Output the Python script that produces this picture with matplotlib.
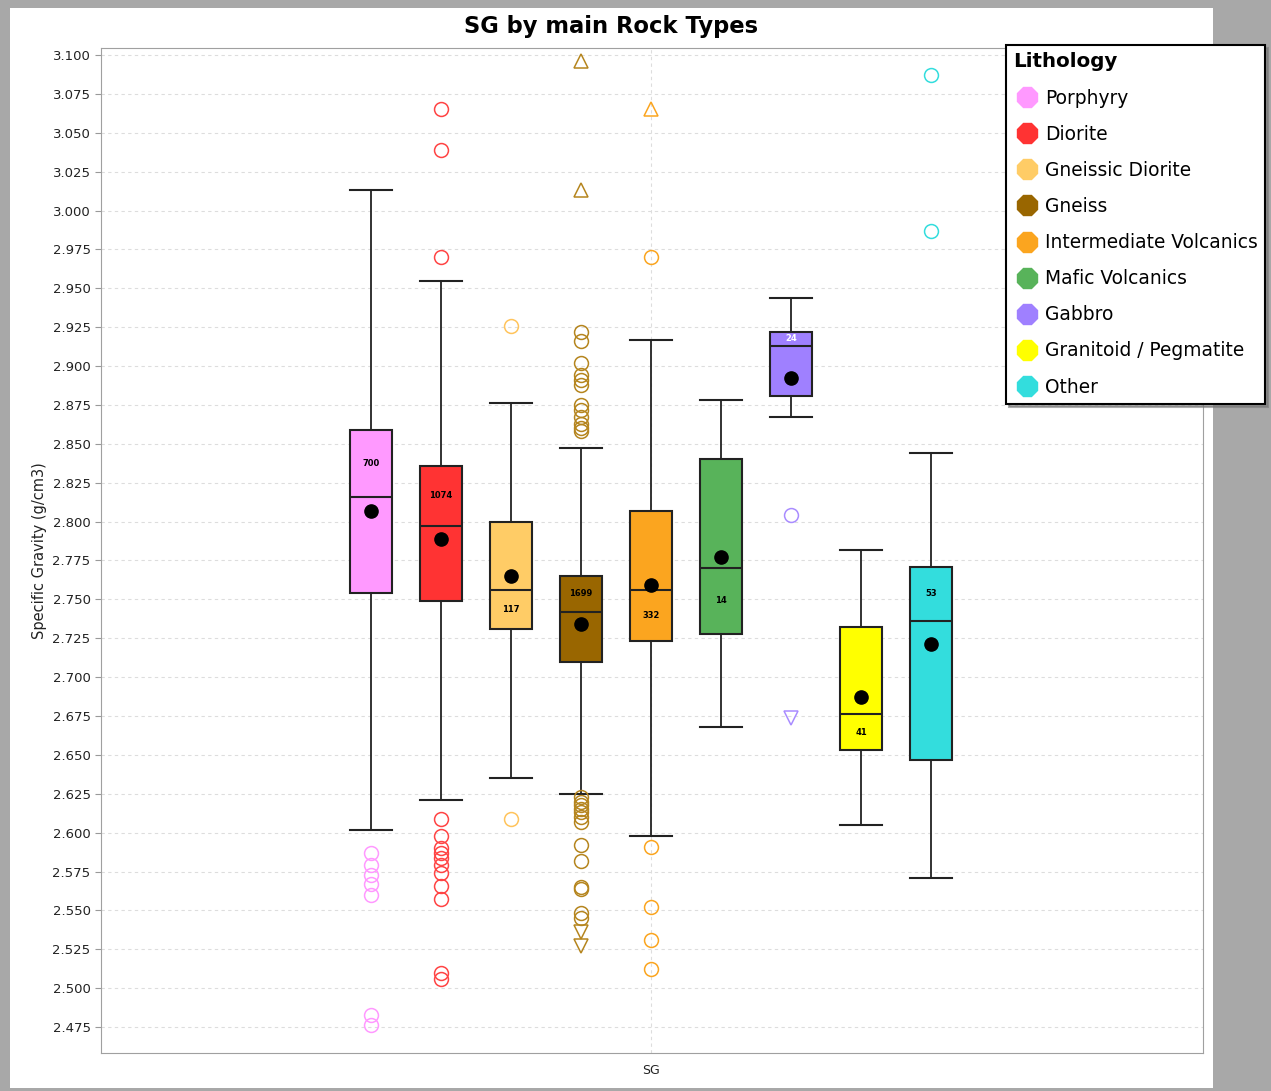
import numpy as np
import matplotlib.pyplot as plt
from matplotlib.patches import Rectangle

# lithology classes and their box plot statistics (SG, g/cm3)
names = ['Porphyry', 'Diorite', 'Gneissic Diorite', 'Gneiss', 'Intermediate Volcanics',
         'Mafic Volcanics', 'Gabbro', 'Granitoid / Pegmatite', 'Other']
colors = ['#FF99FF', '#FF3333', '#FFCC66', '#996600', '#FBA51F',
          '#58B35A', '#9F80FF', '#FFFF00', '#33DDDD']
flier_colors = ['#FF99FF', '#FF4444', '#FFC45C', '#B5851E', '#FBA51F',
                '#58B35A', '#A98CFF', '#FFFF00', '#33DDDD']
counts = [700, 1074, 117, 1699, 332, 14, 24, 41, 53]

whis_hi = [3.013, 2.955, 2.876, 2.847, 2.917, 2.878, 2.944, 2.782, 2.844]
q3 = [2.859, 2.836, 2.800, 2.765, 2.807, 2.840, 2.922, 2.732, 2.771]
med = [2.816, 2.797, 2.756, 2.742, 2.756, 2.770, 2.913, 2.676, 2.736]
mean = [2.807, 2.789, 2.765, 2.734, 2.759, 2.777, 2.892, 2.687, 2.721]
q1 = [2.754, 2.749, 2.731, 2.710, 2.723, 2.728, 2.881, 2.653, 2.647]
whis_lo = [2.602, 2.621, 2.635, 2.625, 2.598, 2.668, 2.867, 2.605, 2.571]

outliers = [
    [2.587, 2.579, 2.573, 2.567, 2.560, 2.483, 2.476],
    [3.065, 3.039, 2.970, 2.609, 2.598, 2.590, 2.587, 2.584, 2.579, 2.574,
     2.566, 2.557, 2.510, 2.506],
    [2.926, 2.609],
    [2.922, 2.916, 2.902, 2.894, 2.891, 2.888, 2.875, 2.872, 2.867, 2.863,
     2.860, 2.858, 2.623, 2.620, 2.618, 2.615, 2.613, 2.610, 2.607, 2.592,
     2.582, 2.565, 2.564, 2.548, 2.545],
    [2.970, 2.591, 2.552, 2.531, 2.512],
    [],
    [2.804],
    [],
    [3.087, 2.987],
]
farout_hi = [[], [], [], [3.096, 3.013], [3.065], [], [], [], []]
farout_lo = [[], [], [], [2.536, 2.527], [], [], [2.674], [], []]

fig = plt.figure(figsize=(12.71, 10.91), dpi=100)
fig.patch.set_facecolor('#A8A8A8')
# white chart panel
fig.patches.append(Rectangle((10 / 1271, 1 - 1088 / 1091), 1203 / 1271, 1080 / 1091,
                             transform=fig.transFigure, facecolor='white',
                             edgecolor='none', zorder=0))

ax = fig.add_axes([101 / 1271, 1 - 1053 / 1091, 1102 / 1271, 1005 / 1091])
ax.set_zorder(1)

pos = np.arange(len(names))
stats = []
for i in range(len(names)):
    stats.append({'med': med[i], 'q1': q1[i], 'q3': q3[i], 'whislo': whis_lo[i],
                  'whishi': whis_hi[i], 'mean': mean[i], 'fliers': []})

bp = ax.bxp(stats, positions=pos, widths=0.6, capwidths=0.6, patch_artist=True,
            showmeans=True, showfliers=False,
            boxprops=dict(edgecolor='#222222', linewidth=1.5),
            medianprops=dict(color='#222222', linewidth=1.5),
            whiskerprops=dict(color='#222222', linewidth=1.3),
            capprops=dict(color='#222222', linewidth=1.5),
            meanprops=dict(marker='o', markerfacecolor='black', markeredgecolor='black',
                           markersize=9.5))
for box, c in zip(bp['boxes'], colors):
    box.set_facecolor(c)

for i in range(len(names)):
    if outliers[i]:
        ax.plot([pos[i]] * len(outliers[i]), outliers[i], 'o', markersize=10,
                markerfacecolor='none', markeredgecolor=flier_colors[i], markeredgewidth=1.1)
    if farout_hi[i]:
        ax.plot([pos[i]] * len(farout_hi[i]), farout_hi[i], '^', markersize=10,
                markerfacecolor='none', markeredgecolor=flier_colors[i], markeredgewidth=1.1)
    if farout_lo[i]:
        ax.plot([pos[i]] * len(farout_lo[i]), farout_lo[i], 'v', markersize=10,
                markerfacecolor='none', markeredgecolor=flier_colors[i], markeredgewidth=1.1)
    # count label sits in the half of the box away from the mean
    if mean[i] < med[i]:
        ty = (q3[i] + med[i]) / 2
    else:
        ty = (q1[i] + med[i]) / 2
    tc = 'white' if names[i] == 'Gabbro' else 'black'
    ax.text(pos[i], ty, str(counts[i]), ha='center', va='center', fontsize=6,
            fontweight='bold', color=tc)

ax.set_xlim(4 - 7.857, 4 + 7.886)
ax.set_ylim(2.4583, 3.1045)
ax.set_yticks(np.arange(2.475, 3.1001, 0.025))
ax.set_yticklabels(['%.3f' % v for v in np.arange(2.475, 3.1001, 0.025)], fontsize=9.5,
                   color='#222222')
ax.set_xticks([4])
ax.set_xticklabels(['SG'], fontsize=9, color='#222222')
ax.tick_params(axis='y', length=4, color='#999999')
ax.tick_params(axis='x', length=0, pad=8)
ax.grid(True, color='#DDDDDD', linestyle=(0, (3, 3)), linewidth=0.8)
ax.set_axisbelow(True)
for s in ax.spines.values():
    s.set_color('#A0A0A0')

ax.set_ylabel('Specific Gravity (g/cm3)', fontsize=10.5, color='#222222', labelpad=4)
fig.text(611 / 1271, 1 - 26 / 1091, 'SG by main Rock Types', ha='center', va='center',
         fontsize=16.3, fontweight='bold')

handles = [plt.Line2D([], [], marker='8', linestyle='none', markersize=16,
                      markerfacecolor=c, markeredgecolor=c) for c in colors]
leg = fig.legend(handles, names, title='Lithology', loc='upper left',
                 bbox_to_anchor=(1006 / 1271, 1 - 45 / 1091), fontsize=13.4,
                 title_fontproperties={'weight': 'bold', 'size': 14.3},
                 frameon=True, fancybox=False, edgecolor='black', framealpha=1,
                 borderpad=0.4, labelspacing=0.92, handletextpad=0.2, handlelength=1.5,
                 borderaxespad=0, shadow={'color': '#777777', 'alpha': 0.6})
leg._legend_box.align = 'left'
leg.get_frame().set_linewidth(1.5)
leg.set_zorder(5)

plt.savefig('out.png', dpi=100, facecolor=fig.get_facecolor())
